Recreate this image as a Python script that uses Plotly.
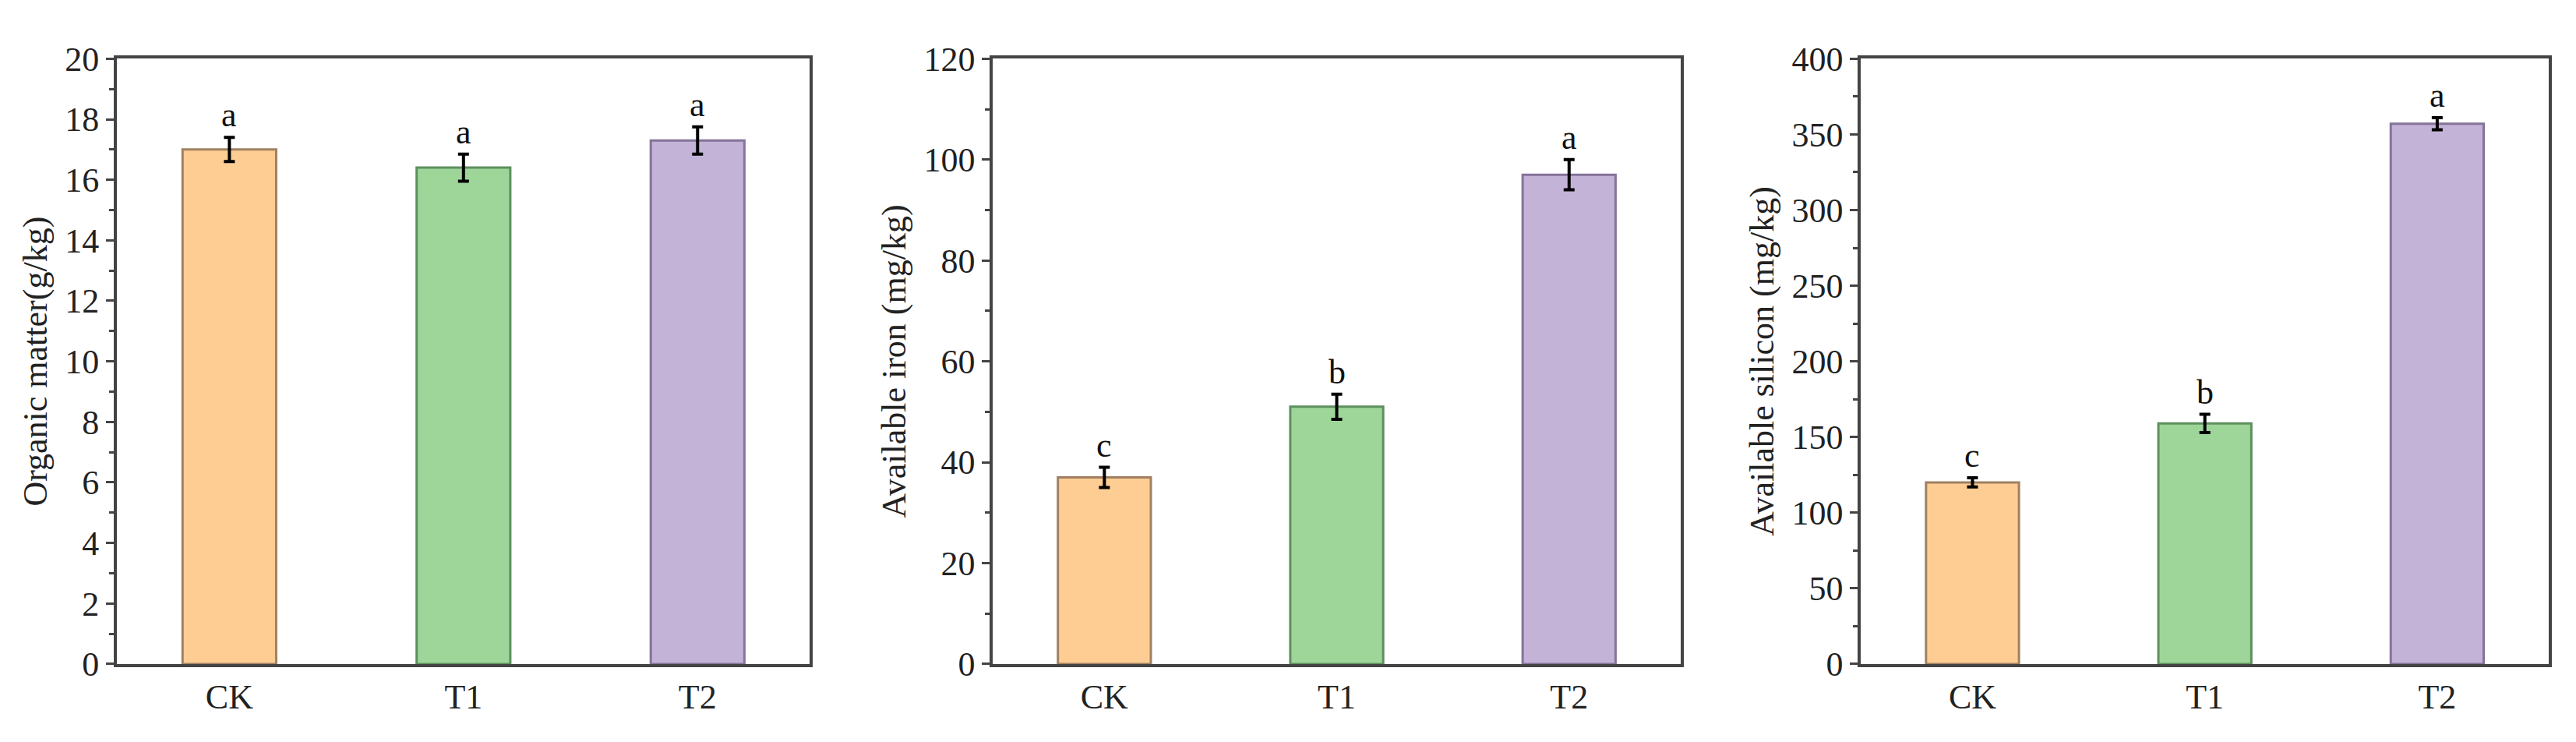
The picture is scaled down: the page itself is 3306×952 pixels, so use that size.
import plotly.graph_objects as go

cats = ["CK", "T1", "T2"]
om = [17.0, 16.4, 17.3]; om_err = [0.4, 0.45, 0.45]; om_lab = ["a", "a", "a"]
fe = [37, 51, 97]; fe_err = [2, 2.5, 3]; fe_lab = ["c", "b", "a"]
si = [120, 159, 357]; si_err = [3, 6, 4]; si_lab = ["c", "b", "a"]
fills = ["#FDCD94", "#9ED69A", "#C3B3D6"]
lines = ["#A08060", "#5E8F5E", "#857399"]
panels = [
    (om, om_err, om_lab, "Organic matter(g/kg)", [0, 20], 2, 1),
    (fe, fe_err, fe_lab, "Available iron (mg/kg)", [0, 120], 20, 10),
    (si, si_err, si_lab, "Available silicon (mg/kg)", [0, 400], 50, 25),
]
doms = [(0.043, 0.312), (0.383, 0.650), (0.720, 0.987)]
font = "Liberation Serif"
fig = go.Figure()
for i, (v, e, lab, title, rng, dt, mdt) in enumerate(panels):
    n = "" if i == 0 else str(i + 1)
    fig.add_trace(go.Bar(x=cats, y=v, width=0.4,
        marker=dict(color=fills, line=dict(color=lines, width=3)),
        error_y=dict(type="data", array=e, color="black", thickness=4, width=7),
        xaxis="x" + n, yaxis="y" + n, showlegend=False))
    for c, val, er, l in zip(cats, v, e, lab):
        fig.add_annotation(x=c, y=val + er, text=l, showarrow=False, yanchor="bottom", yshift=2,
                           xref="x" + n, yref="y" + n,
                           font=dict(family=font, size=44, color="#111"))
    ax = dict(domain=doms[i], anchor="y" + n, range=[-0.48, 2.48], showline=True, mirror=True,
              linecolor="#444", linewidth=4, ticks="", tickfont=dict(family=font, size=44, color="#222"))
    ay = dict(domain=[0.092, 0.952], anchor="x" + n, range=rng, dtick=dt, showline=True, mirror=True,
              linecolor="#444", linewidth=4, ticks="outside", ticklen=10, tickwidth=3, tickcolor="#444",
              minor=dict(dtick=mdt, ticks="outside", ticklen=6, tickwidth=3, tickcolor="#444"),
              showgrid=False, zeroline=False,
              tickfont=dict(family=font, size=44, color="#222"),
              title=dict(text=title, font=dict(family=font, size=44, color="#222"), standoff=10))
    fig.update_layout(**{"xaxis" + n: ax, "yaxis" + n: ay})
fig.update_layout(width=3306, height=952, plot_bgcolor="white", paper_bgcolor="white",
                  margin=dict(l=0, r=0, t=0, b=0))
fig.write_html("out.html")
